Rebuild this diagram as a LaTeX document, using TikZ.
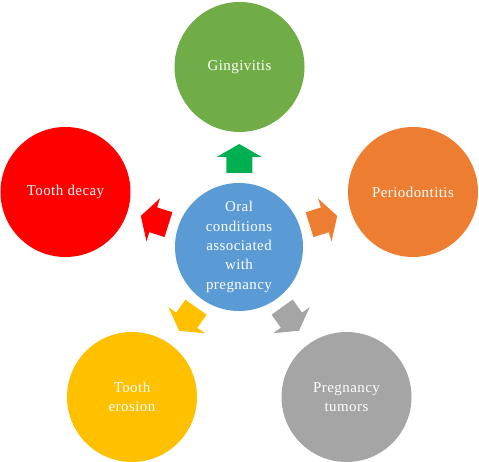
\documentclass[tikz,border=0pt]{standalone}
\usepackage{fontspec}
\setmainfont{Liberation Serif}[LetterSpace=3]
\usetikzlibrary{calc}
\definecolor{cblue}{HTML}{5B9BD5}
\definecolor{cgreen}{HTML}{70AD47}
\definecolor{cgreenarrow}{HTML}{00B050}
\definecolor{corange}{HTML}{ED7D31}
\definecolor{cred}{HTML}{FF0000}
\definecolor{cyellow}{HTML}{FFC000}
\definecolor{cgray}{HTML}{A5A5A5}
\newcommand{\blkarrow}[3]{%
  \fill[#1, shift={($(C)!88.5bp!(#2)$)}, rotate=#3]
    (-14.5,-13) -- (1.5,-13) -- (1.5,-22.5) -- (14.5,0) -- (1.5,22.5) -- (1.5,13) -- (-14.5,13) -- cycle;}
\begin{document}
\begin{tikzpicture}[x=1bp,y=1bp,
  bub/.style={circle, inner sep=0pt, minimum size=130bp, text=white,
    font=\fontsize{15}{19.5}\selectfont, align=center}]
\useasboundingbox (0,0) rectangle (479,462);
\node[bub, fill=cblue, minimum size=128bp] (C) at (239,215) {Oral\\conditions\\associated\\with\\pregnancy};
\node[bub, fill=cgreen] (G) at (239.5,395) {Gingivitis};
\node[bub, fill=corange] (P) at (413,270) {Periodontitis};
\node[bub, fill=cred] (D) at (65.5,270) {Tooth decay};
\node[bub, fill=cyellow] (E) at (132,65) {Tooth\\erosion};
\node[bub, fill=cgray] (T) at (346.5,65) {Pregnancy\\tumors};
\blkarrow{cgreenarrow}{G}{90}
\blkarrow{corange}{P}{17.5}
\blkarrow{cred}{D}{162.5}
\blkarrow{cyellow}{E}{234.5}
\blkarrow{cgray}{T}{305.5}
\end{tikzpicture}
\end{document}
